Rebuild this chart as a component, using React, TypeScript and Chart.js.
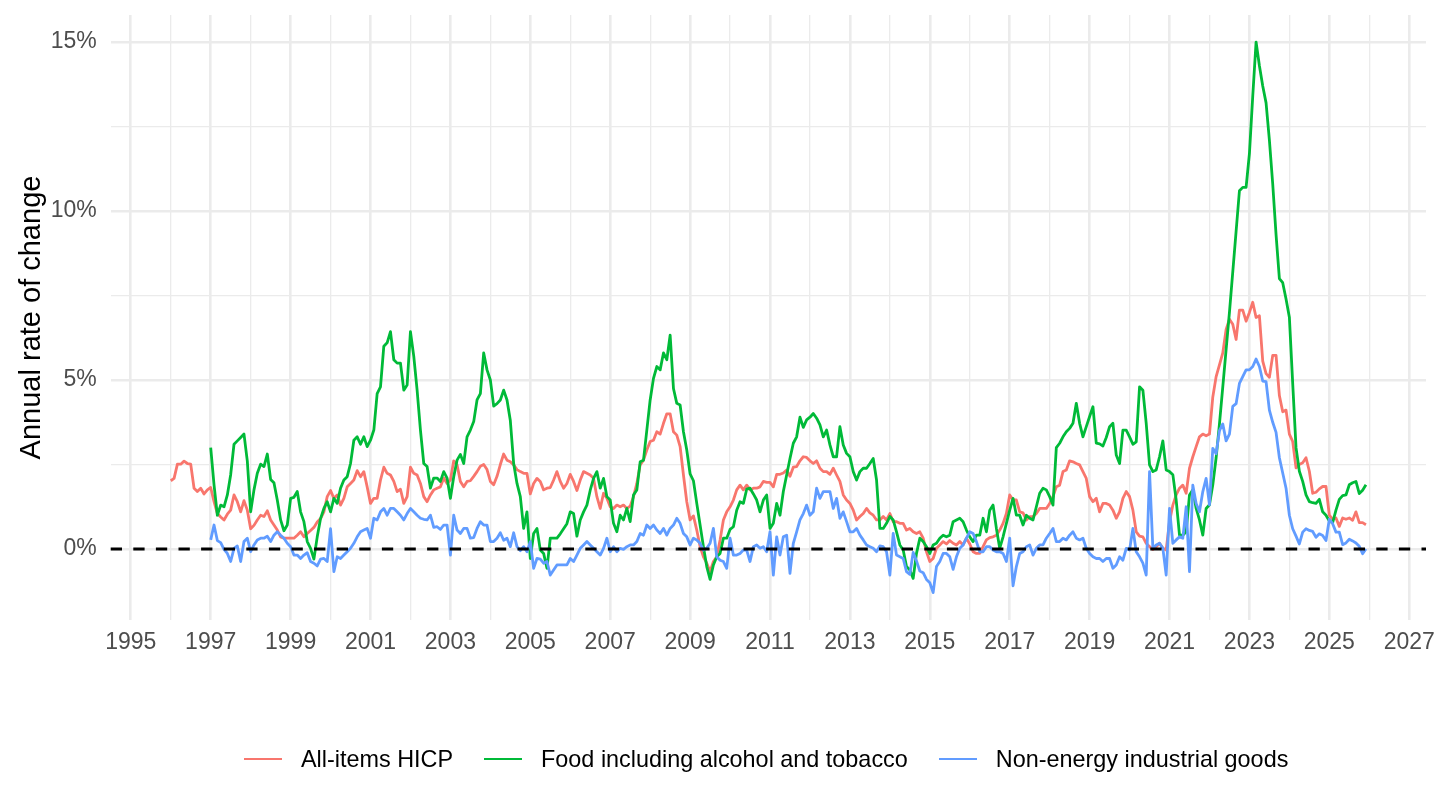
import { useEffect, useRef } from "react";
import { Chart, registerables } from "chart.js";

Chart.register(...registerables);

// ---- Data (monthly annual rates of change, %) ----
const ALL_ITEMS_START = 1996; // first month: Jan 1996
const COMPONENTS_START = 1997; // first month: Jan 1997

const allItemsHicp: number[] = [
  // 1996
  2.02, 2.09, 2.51, 2.51, 2.6, 2.53, 2.51, 1.8, 1.7, 1.8, 1.63, 1.75,
  // 1997
  1.82, 1.4, 1.05, 0.95, 0.86, 1.03, 1.15, 1.6, 1.4, 1.1, 1.43, 1.15,
  // 1998
  0.6, 0.7, 0.86, 1.0, 0.96, 1.13, 0.86, 0.71, 0.56, 0.36, 0.32, 0.32,
  // 1999
  0.32, 0.32, 0.41, 0.51, 0.36, 0.46, 0.55, 0.64, 0.8, 0.9, 1.1, 1.55,
  // 2000
  1.73, 1.5, 1.6, 1.3, 1.5, 1.84, 1.94, 2.04, 2.32, 2.14, 2.29, 1.84,
  // 2001
  1.35, 1.5, 1.5, 2.04, 2.42, 2.24, 2.19, 2.0, 1.7, 1.77, 1.35, 1.55,
  // 2002
  2.42, 2.24, 2.19, 1.94, 1.55, 1.4, 1.6, 1.75, 1.8, 1.84, 2.1, 1.94,
  // 2003
  2.04, 2.61, 2.49, 2.0, 1.84, 2.0, 2.02, 2.15, 2.29, 2.45, 2.5, 2.35,
  // 2004
  2.0, 1.9, 2.15, 2.5, 2.81, 2.63, 2.58, 2.49, 2.35, 2.29, 2.24, 2.24,
  // 2005
  1.63, 1.94, 2.09, 2.0, 1.75, 1.8, 1.82, 2.04, 2.29, 2.0, 1.8, 1.94,
  // 2006
  2.21, 2.0, 1.73, 2.04, 2.29, 2.24, 2.19, 2.09, 1.55, 1.2, 1.65, 1.5,
  // 2007
  1.25, 1.2, 1.3, 1.25, 1.3, 1.2, 1.27, 1.55, 1.94, 2.49, 2.63, 2.93,
  // 2008
  3.18, 3.22, 3.47, 3.4, 3.72, 4.0, 4.0, 3.47, 3.37, 3.03, 2.19, 1.4,
  // 2009
  0.86, 0.98, 0.56, 0.07, -0.23, -0.42, -0.67, -0.37, -0.23, 0.27, 0.86, 1.1,
  // 2010
  1.25, 1.45, 1.75, 1.89, 1.75, 1.89, 1.75, 1.8, 1.8, 1.84, 2.0, 1.97,
  // 2011
  1.97, 1.84, 2.21, 2.21, 2.25, 2.34, 2.15, 2.42, 2.44, 2.61, 2.73, 2.71,
  // 2012
  2.61, 2.53, 2.61, 2.39, 2.29, 2.29, 2.21, 2.39, 2.19, 2.0, 1.6, 1.45,
  // 2013
  1.35, 1.15, 0.86, 0.96, 1.05, 1.2, 1.07, 1.0, 0.86, 0.86, 0.96, 0.86,
  // 2014
  1.05, 0.81, 0.81, 0.76, 0.76, 0.56, 0.61, 0.51, 0.46, 0.51, 0.32, -0.08,
  // 2015
  -0.37, -0.28, 0.02, 0.12, 0.22, 0.15, 0.25, 0.17, 0.12, 0.22, 0.12, 0.32,
  // 2016
  0.15, -0.08, -0.13, -0.13, 0.07, 0.27, 0.34, 0.36, 0.41, 0.56, 0.76, 1.05,
  // 2017
  1.6, 1.45, 1.45, 1.1, 1.07, 0.86, 0.96, 0.96, 1.05, 1.2, 1.2, 1.2,
  // 2018
  1.35, 1.55, 1.84, 1.89, 2.29, 2.34, 2.61, 2.58, 2.53, 2.49, 2.29, 2.09,
  // 2019
  1.55, 1.4, 1.5, 1.1, 1.35, 1.35, 1.3, 1.15, 0.91, 1.1, 1.5, 1.7,
  // 2020
  1.55, 1.15, 0.51, 0.38, 0.36, 0.17, 0.07, -0.01, 0.07, 0.17, 0.02, -0.03,
  // 2021
  0.81, 1.3, 1.6, 1.8, 1.89, 1.65, 2.39, 2.73, 3.03, 3.32, 3.4, 3.35,
  // 2022
  3.4, 4.5, 5.1, 5.45, 5.8, 6.5, 6.8, 6.65, 6.2, 7.07, 7.07, 6.74,
  // 2023
  7.0, 7.3, 6.85, 6.9, 5.56, 5.19, 5.08, 5.73, 5.73, 4.54, 4.06, 4.11,
  // 2024
  3.4, 3.18, 2.4, 2.5, 2.55, 2.7, 2.3, 1.65, 1.68, 1.78, 1.85, 1.85,
  // 2025
  1.0, 0.88, 0.92, 0.67, 0.92, 0.88, 0.92, 0.85, 1.1, 0.78, 0.78, 0.72,
];

const foodAlcoholTobacco: number[] = [
  // 1997
  3.0, 1.9, 1.0, 1.3, 1.25, 1.6, 2.2, 3.1, 3.2, 3.3, 3.4, 2.6,
  // 1998
  1.1, 1.75, 2.24, 2.51, 2.44, 2.81, 2.06, 1.96, 1.45, 0.86, 0.54, 0.71,
  // 1999
  1.5, 1.53, 1.7, 1.1, 0.81, 0.22, 0.02, -0.3, 0.36, 0.9, 1.2, 1.4,
  // 2000
  1.1, 1.5, 1.35, 1.8, 2.04, 2.14, 2.53, 3.22, 3.32, 3.1, 3.32, 3.03,
  // 2001
  3.22, 3.52, 4.6, 4.8, 6.0, 6.1, 6.43, 5.6, 5.5, 5.5, 4.7, 4.85,
  // 2002
  6.43, 5.7, 4.7, 3.52, 2.53, 2.44, 1.8, 2.1, 2.1, 2.0, 2.29, 2.1,
  // 2003
  1.5, 2.14, 2.63, 2.8, 2.53, 3.32, 3.52, 3.77, 4.41, 4.6, 5.8, 5.3,
  // 2004
  5.0, 4.23, 4.3, 4.41, 4.7, 4.41, 3.8, 2.53, 1.94, 1.55, 0.61, 1.1,
  // 2005
  -0.28, 0.46, 0.61, -0.03, -0.13, -0.57, 0.32, 0.32, 0.32, 0.45, 0.6, 0.75,
  // 2006
  1.1, 1.05, 0.38, 0.86, 1.1, 1.3, 1.74, 2.09, 2.29, 1.8, 2.09, 1.55,
  // 2007
  1.45, 0.76, 0.51, 1.0, 0.86, 1.2, 0.81, 1.6, 1.75, 2.58, 2.63, 3.52,
  // 2008
  4.41, 5.05, 5.4, 5.3, 5.8, 5.6, 6.33, 4.75, 4.31, 4.26, 3.47, 2.93,
  // 2009
  2.22, 2.02, 1.35, 0.71, 0.07, -0.52, -0.9, -0.47, -0.23, -0.13, 0.32, 0.32,
  // 2010
  0.58, 0.66, 1.15, 1.4, 1.35, 1.77, 1.8, 1.63, 1.45, 1.1, 1.45, 1.6,
  // 2011
  0.61, 0.76, 1.35, 1.0, 1.7, 2.19, 2.68, 3.13, 3.32, 3.9, 3.6, 3.82,
  // 2012
  3.9, 4.01, 3.87, 3.67, 3.32, 3.52, 3.08, 2.73, 2.73, 3.62, 3.08, 2.83,
  // 2013
  2.73, 2.29, 2.04, 2.29, 2.39, 2.39, 2.53, 2.68, 2.04, 0.61, 0.61, 0.76,
  // 2014
  0.96, 0.86, 0.51, 0.12, -0.03, -0.52, -0.62, -0.87, -0.13, 0.32, 0.22, 0.07,
  // 2015
  -0.13, 0.12, 0.17, 0.32, 0.41, 0.36, 0.41, 0.81, 0.86, 0.91, 0.81, 0.56,
  // 2016
  0.36, 0.22, 0.41, 0.41, 0.91, 0.51, 1.15, 1.3, 0.61, 0.02, 0.36, 0.76,
  // 2017
  1.15, 1.5, 1.0, 1.0, 0.71, 1.0, 0.91, 0.86, 1.25, 1.65, 1.8, 1.75,
  // 2018
  1.55, 1.3, 3.0, 3.13, 3.32, 3.47, 3.57, 3.72, 4.31, 3.72, 3.32, 3.62,
  // 2019
  3.92, 4.21, 3.13, 3.11, 3.05, 3.3, 3.62, 3.72, 2.78, 2.53, 3.52, 3.52,
  // 2020
  3.32, 3.1, 3.17, 4.8, 4.7, 3.72, 2.49, 2.29, 2.34, 2.73, 3.2, 2.34,
  // 2021
  2.29, 2.2, 1.45, 0.41, 0.41, 0.51, 1.6, 1.75, 1.2, 0.86, 0.41, 1.2,
  // 2022
  1.31, 1.9, 2.7, 3.7, 4.8, 5.9, 7.0, 8.2, 9.4, 10.6, 10.7, 10.7,
  // 2023
  11.7, 13.4, 15.0, 14.3, 13.7, 13.2, 12.1, 10.8, 9.3, 8.0, 7.88, 7.4,
  // 2024
  6.86, 4.9, 3.0, 2.3, 2.0, 1.6, 1.4, 1.37, 1.35, 1.47, 1.1, 1.0,
  // 2025
  0.83, 0.78, 1.15, 1.47, 1.58, 1.6, 1.9, 1.96, 2.0, 1.64, 1.74, 1.9,
];

const nonEnergyIndustrialGoods: number[] = [
  // 1997
  0.27, 0.71, 0.25, 0.19, -0.01, -0.13, -0.37, 0.02, 0.09, -0.37, 0.22, 0.32,
  // 1998
  -0.08, 0.12, 0.27, 0.32, 0.32, 0.38, 0.22, 0.41, 0.51, 0.41, 0.32, 0.17,
  // 1999
  0.07, -0.18, -0.18, -0.28, -0.18, -0.11, -0.37, -0.42, -0.5, -0.3, -0.28, -0.37,
  // 2000
  0.6, -0.67, -0.23, -0.28, -0.18, -0.08, 0.02, 0.17, 0.36, 0.51, 0.56, 0.61,
  // 2001
  0.32, 0.91, 0.86, 1.1, 1.2, 1.0, 1.2, 1.2, 1.1, 1.0, 0.86, 1.05,
  // 2002
  1.2, 1.1, 1.0, 0.91, 0.88, 0.86, 1.0, 0.64, 0.66, 0.58, 0.71, 0.71,
  // 2003
  -0.18, 1.0, 0.56, 0.46, 0.61, 0.61, 0.32, 0.34, 0.61, 0.81, 0.71, 0.71,
  // 2004
  0.22, 0.22, 0.32, 0.48, 0.26, 0.32, 0.07, 0.48, 0.07, -0.05, 0.07, -0.08,
  // 2005
  0.22, -0.57, -0.28, -0.3, -0.42, -0.37, -0.77, -0.62, -0.47, -0.47, -0.47, -0.47,
  // 2006
  -0.28, -0.37, -0.18, 0.02, 0.12, 0.22, 0.12, 0.02, -0.08, -0.18, 0.02, 0.32,
  // 2007
  -0.08, 0.07, -0.08, 0.02, -0.01, 0.07, 0.12, 0.12, 0.22, 0.46, 0.41, 0.71,
  // 2008
  0.61, 0.71, 0.56, 0.46, 0.61, 0.41, 0.61, 0.71, 0.91, 0.76, 0.46, 0.36,
  // 2009
  0.12, 0.32, 0.27, 0.17, -0.03, 0.02, 0.17, 0.61, -0.23, -0.33, -0.37, -0.57,
  // 2010
  0.32, -0.18, -0.18, -0.13, -0.03, -0.03, -0.37, 0.07, 0.12, 0.02, 0.07, -0.08,
  // 2011
  0.51, -0.77, 0.36, -0.18, 0.36, 0.41, -0.72, 0.17, 0.51, 0.86, 1.05, 1.3,
  // 2012
  1.0, 1.1, 1.8, 1.5, 1.7, 1.7, 1.7, 1.2, 1.5, 0.91, 1.1, 0.81,
  // 2013
  0.51, 0.51, 0.61, 0.41, 0.27, 0.12, 0.07, 0.02, -0.08, 0.09, 0.07, -0.08,
  // 2014
  -0.77, 0.46, -0.18, -0.23, -0.28, -0.67, -0.75, -0.1, -0.35, -0.65, -0.7, -0.9,
  // 2015
  -1.0, -1.29, -0.52, -0.37, -0.13, -0.13, -0.23, -0.6, -0.23, 0.02, 0.12, 0.32,
  // 2016
  0.51, 0.46, 0.22, -0.08, -0.08, 0.07, 0.07, -0.03, -0.08, -0.08, -0.13, -0.37,
  // 2017
  0.32, -1.09, -0.52, -0.13, -0.08, 0.07, 0.12, -0.18, 0.02, 0.12, 0.12, 0.32,
  // 2018
  0.46, 0.61, 0.22, 0.22, 0.32, 0.27, 0.41, 0.51, 0.32, 0.27, 0.32, 0.02,
  // 2019
  -0.13, -0.23, -0.28, -0.28, -0.37, -0.28, -0.28, -0.57, -0.47, -0.23, -0.33, 0.02,
  // 2020
  -0.03, 0.61, -0.08, -0.23, -0.42, -0.77, 2.29, 0.02, 0.12, 0.17, 0.02, -0.77,
  // 2021
  1.2, 0.17, 0.27, 0.36, 0.32, 1.25, -0.67, 1.89, 1.35, 1.1, 1.7, 2.09,
  // 2022
  1.31, 2.98, 2.82, 3.5, 3.7, 3.2, 3.4, 4.22, 4.3, 4.9, 5.1, 5.3,
  // 2023
  5.3, 5.4, 5.62, 5.4, 4.97, 4.95, 4.11, 3.75, 3.45, 2.7, 2.25, 1.8,
  // 2024
  1.0, 0.6, 0.38, 0.15, 0.5, 0.6, 0.55, 0.52, 0.35, 0.45, 0.4, 0.25,
  // 2025
  0.88, 0.75, 0.5, 0.5, 0.13, 0.18, 0.29, 0.24, 0.18, 0.08, -0.14, 0.0,
];

const seriesLabels = [
  "All-items HICP",
  "Food including alcohol and tobacco",
  "Non-energy industrial goods",
];
const seriesColors = ["#F8766D", "#00BA38", "#619CFF"];

const xTickYears = [
  1995, 1996, 1997, 1998, 1999, 2000, 2001, 2002, 2003, 2004, 2005, 2006, 2007,
  2008, 2009, 2010, 2011, 2012, 2013, 2014, 2015, 2016, 2017, 2018, 2019, 2020,
  2021, 2022, 2023, 2024, 2025, 2026, 2027,
];
const yTickValues = [0, 2.5, 5, 7.5, 10, 12.5, 15];

const FONT = '"Liberation Sans", Arial, Helvetica, sans-serif';

function toPoints(values: number[], startYear: number) {
  return values.map((v, i) => ({ x: startYear + i / 12, y: v }));
}

const zeroLine = {
  id: "zeroLine",
  afterDatasetsDraw(chart: any) {
    const { ctx, chartArea, scales } = chart;
    const y = scales.y.getPixelForValue(0);
    ctx.save();
    ctx.beginPath();
    ctx.setLineDash([11.3, 11.3]);
    ctx.lineWidth = 2.8;
    ctx.strokeStyle = "#000000";
    ctx.moveTo(chartArea.left, y);
    ctx.lineTo(chartArea.right, y);
    ctx.stroke();
    ctx.restore();
  },
};

export default function App() {
  const canvasRef = useRef<HTMLCanvasElement | null>(null);

  useEffect(() => {
    if (!canvasRef.current) return;
    const dataSets = [
      { values: allItemsHicp, start: ALL_ITEMS_START },
      { values: foodAlcoholTobacco, start: COMPONENTS_START },
      { values: nonEnergyIndustrialGoods, start: COMPONENTS_START },
    ];
    const chart = new Chart(canvasRef.current, {
      type: "line",
      data: {
        datasets: dataSets.map((d, i) => ({
          label: seriesLabels[i],
          data: toPoints(d.values, d.start),
          borderColor: seriesColors[i],
          backgroundColor: seriesColors[i],
          borderWidth: 2.8,
          pointRadius: 0,
          tension: 0,
          fill: false,
          borderJoinStyle: "round" as const,
          order: 3 - i,
        })),
      },
      options: {
        animation: false,
        responsive: false,
        maintainAspectRatio: false,
        layout: { padding: { left: 0, right: 14, top: 15, bottom: 0 } },
        plugins: {
          legend: { display: false },
          tooltip: { enabled: false },
        },
        scales: {
          x: {
            type: "linear",
            min: 1994.497,
            max: 2027.42,
            afterBuildTicks: (s: any) => {
              s.ticks = xTickYears.map((v) => ({ value: v }));
            },
            afterFit: (s: any) => {
              s.height = 190;
              s.paddingLeft = 0;
              s.paddingRight = 0;
            },
            grid: {
              color: "#EBEBEB",
              lineWidth: (ctx: any) =>
                ctx.tick && ctx.tick.value % 2 === 1 ? 2.6 : 1.3,
              drawTicks: false,
            },
            border: { display: false },
            ticks: {
              autoSkip: false,
              maxRotation: 0,
              minRotation: 0,
              padding: 9,
              color: "#4D4D4D",
              font: { family: FONT, size: 23 },
              callback: (v: any) => (Number(v) % 2 === 1 ? String(v) : ""),
            },
          },
          y: {
            type: "linear",
            min: -2.1,
            max: 15.8,
            afterBuildTicks: (s: any) => {
              s.ticks = yTickValues.map((v) => ({ value: v }));
            },
            afterFit: (s: any) => {
              s.width = 110.7;
              s.paddingTop = 0;
              s.paddingBottom = 0;
            },
            grid: {
              color: "#EBEBEB",
              lineWidth: (ctx: any) =>
                ctx.tick && ctx.tick.value % 5 === 0 ? 2.6 : 1.3,
              drawTicks: false,
            },
            border: { display: false },
            ticks: {
              autoSkip: false,
              padding: 14,
              color: "#4D4D4D",
              font: { family: FONT, size: 23 },
              callback: (v: any) => (Number(v) % 5 === 0 ? `${v}%` : ""),
            },
            title: {
              display: true,
              text: "Annual rate of change",
              color: "#000000",
              font: { family: FONT, size: 29 },
              padding: { top: 14.6, bottom: 0 },
            },
          },
        },
      },
      plugins: [zeroLine],
    });
    return () => chart.destroy();
  }, []);

  return (
    <div
      style={{
        position: "absolute",
        left: 0,
        top: 0,
        width: 1440,
        height: 810,
        background: "#ffffff",
      }}
    >
      <canvas
        ref={canvasRef}
        width={1440}
        height={810}
        style={{ width: 1440, height: 810, display: "block" }}
      />
      <div
        style={{
          position: "absolute",
          left: 244,
          top: 744,
          height: 30,
          display: "flex",
          alignItems: "center",
          fontFamily: FONT,
          fontSize: 23.4,
          color: "#000000",
          whiteSpace: "nowrap",
        }}
      >
        {seriesLabels.map((label, i) => (
          <div
            key={label}
            style={{
              display: "flex",
              alignItems: "center",
              marginRight: i < seriesLabels.length - 1 ? 31 : 0,
            }}
          >
            <span
              style={{
                display: "inline-block",
                width: 38,
                height: 2.9,
                background: seriesColors[i],
                marginRight: 19,
              }}
            />
            <span>{label}</span>
          </div>
        ))}
      </div>
    </div>
  );
}
